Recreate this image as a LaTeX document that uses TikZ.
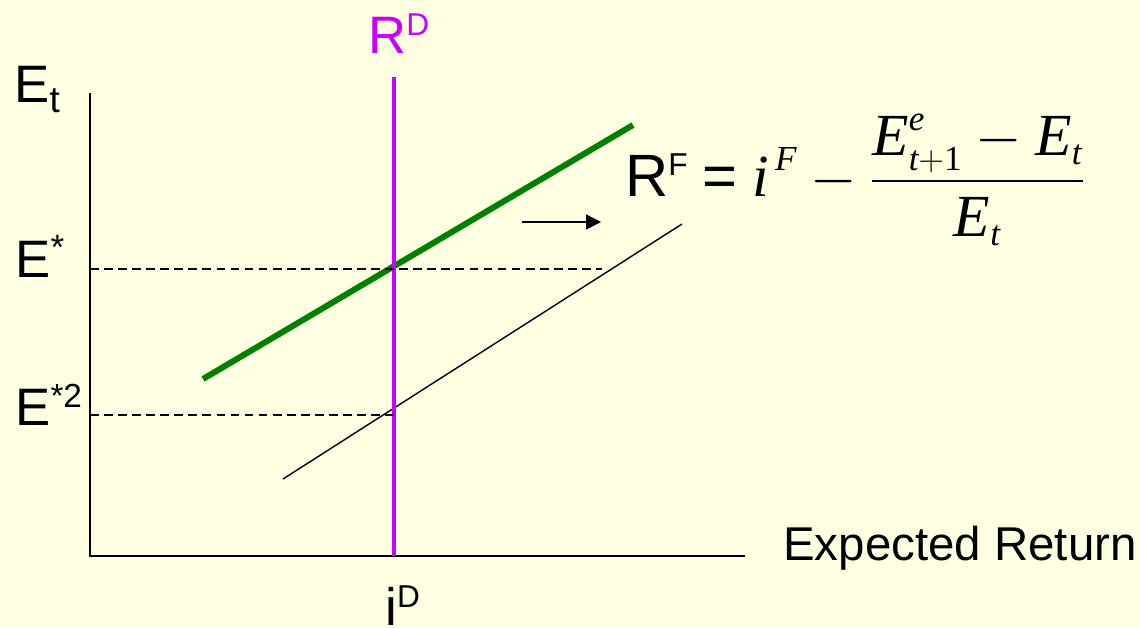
\RequirePackage{fix-cm}
\documentclass[tikz,border=0pt]{standalone}
\usepackage{amsmath}
\usepackage{fontspec}
\setmainfont{Liberation Sans}
\newfontfamily\tms{Liberation Serif}
\usetikzlibrary{arrows.meta}
\definecolor{slidebg}{RGB}{255,255,225}
\definecolor{rdline}{RGB}{204,0,255}
\definecolor{rfline}{RGB}{0,128,0}
\DeclareMathSizes{34}{34}{20}{15}
\newcommand\up[2][18]{\raisebox{0.34em}{\fontsize{#1}{#1}\selectfont #2}}
\newcommand\dn[1]{\raisebox{-0.2em}{\fontsize{21}{21}\selectfont #1}}
\newcommand\ti[1]{\text{\tms\itshape #1}}
\newcommand\tu[1]{\text{\tms #1}}
\tikzset{
  lbl/.style={anchor=base west, inner sep=0pt, font=\fontsize{30}{36}\selectfont},
  formula/.style={anchor=base west, inner sep=0pt, font=\fontsize{34}{40}\selectfont},
  axis/.style={line width=1.1pt},
  guide/.style={line width=0.6pt, dash pattern=on 5pt off 3pt},
  rdcurve/.style={draw=rdline, line width=2.8pt},
  rfcurve/.style={draw=rfline, line width=3.4pt},
  shifted/.style={line width=0.8pt},
  move/.style={-{Triangle[length=8.5pt,width=8.5pt]}, line width=0.8pt}
}
\begin{document}
\begin{tikzpicture}[x=0.02cm,y=-0.02cm]
    \useasboundingbox (0,0) rectangle (1140,627);
    \fill[slidebg] (0,0) rectangle (1140,627);

    % axes
    \coordinate (ytop) at (90,93);
    \coordinate (origin) at (90,556);
    \coordinate (xend) at (745,556);
    \draw[axis] (ytop) -- (origin) -- (xend);

    % curves
    \coordinate (rdtop) at (394,77);
    \coordinate (rdbot) at (394,556);
    \coordinate (rflo) at (203,379);
    \coordinate (rfhi) at (633,125);
    \coordinate (newlo) at (283,479);
    \coordinate (newhi) at (682,224);
    \draw[rfcurve] (rflo) -- (rfhi);
    \draw[shifted] (newlo) -- (newhi);
    \draw[rdcurve] (rdtop) -- (rdbot);

    % equilibrium guides
    \coordinate (e1l) at (90,269);
    \coordinate (e1r) at (602,269);
    \coordinate (e2l) at (90,415);
    \coordinate (e2r) at (394,415);
    \draw[guide] (e1l) -- (e1r);
    \draw[guide] (e2l) -- (e2r);

    \coordinate (mvfrom) at (522,222);
    \coordinate (mvto) at (601,222);
    \draw[move] (mvfrom) -- (mvto);

    \node[lbl] (et) at (14,102) {E\dn{t}};
    \node[lbl, text=rdline] (rd) at (368,53) {R\up{D}};
    \node[lbl] (estar) at (15,277) {E\up[20]{*}};
    \node[lbl] (estar2) at (15,425) {E\up[19]{*2}};
    \node[lbl] (id) at (385,625) {i\up{D}};
    \node[lbl, font=\fontsize{27}{32}\selectfont] (xlab) at (783,560) {Expected Return};

    \node[formula] (rf) at (625,196) {R\up[18]{F}\hspace{0.25em}=\hspace{0.25em}$\ti{i}^{\,\ti{F}}-\dfrac{\ti{E}^{\ti{e}}_{\ti{t}+\tu{1}}-\ti{E}_{\ti{t}}}{\ti{E}_{\ti{t}}}$};
\end{tikzpicture}
\end{document}
